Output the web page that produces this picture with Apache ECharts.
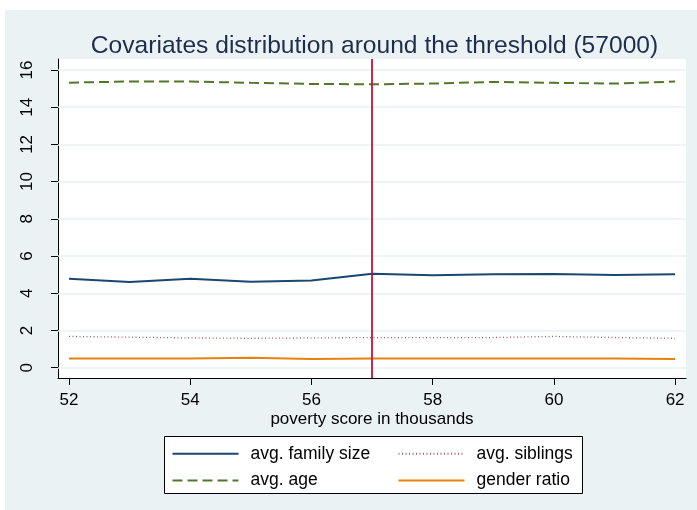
<!DOCTYPE html>
<html>
<head>
<meta charset="utf-8">
<script src="https://cdn.jsdelivr.net/npm/echarts@6/dist/echarts.min.js"></script>
<style>
html,body{margin:0;padding:0;background:#fff;}
#chart{width:697px;height:510px;}
</style>
</head>
<body>
<div id="chart"></div>
<script>
// ---- data ----
const xValues = [52, 53, 54, 55, 56, 57, 58, 59, 60, 61, 62];
const familySize = [4.78, 4.61, 4.78, 4.62, 4.68, 5.05, 4.97, 5.02, 5.03, 4.98, 5.02];
const siblings = [1.68, 1.64, 1.60, 1.58, 1.60, 1.62, 1.62, 1.62, 1.68, 1.62, 1.58];
const age = [15.32, 15.38, 15.38, 15.31, 15.25, 15.23, 15.27, 15.36, 15.31, 15.27, 15.38];
const gender = [0.50, 0.50, 0.50, 0.53, 0.47, 0.50, 0.50, 0.50, 0.50, 0.50, 0.47];
const xTicks = [52, 54, 56, 58, 60, 62];
const yTicks = [0, 2, 4, 6, 8, 10, 12, 14, 16];
const threshold = 57;
const titleText = 'Covariates distribution around the threshold (57000)';
const xTitle = 'poverty score in thousands';
const seriesNames = ['avg. family size', 'avg. siblings', 'avg. age', 'gender ratio'];

const pair = (ys) => xValues.map((x, i) => [x, ys[i]]);
const FONT = 'Liberation Sans, Arial, sans-serif';

const legendBase = {
  orient: 'vertical', top: 444.8, padding: 0,
  itemWidth: 66, itemHeight: 17, itemGap: 8.7, z: 5,
  itemStyle: {opacity: 0},
  textStyle: {fontFamily: FONT, fontSize: 17.5, color: '#000', lineHeight: 17, padding: [0, 0, 0, 7]}
};

const chart = echarts.init(document.getElementById('chart'), null, {renderer: 'canvas'});
chart.setOption({
  animation: false,
  backgroundColor: 'transparent',
  textStyle: {fontFamily: FONT},
  title: {
    text: titleText,
    left: 369.5, top: 29, textAlign: 'center',
    textStyle: {fontFamily: FONT, fontSize: 24.6, fontWeight: 'normal', color: '#1E2D4F'}
  },
  graphic: [
    {type: 'rect', z: -10, silent: true, shape: {x: 5, y: 10, width: 692, height: 500}, style: {fill: '#EAF2F3'}},
    {type: 'rect', z: 1, silent: true, shape: {x: 164.5, y: 436.5, width: 418, height: 57}, style: {fill: '#fff', stroke: '#000', lineWidth: 1}}
  ],
  grid: {left: 58, right: 11, top: 59, bottom: 132, show: true, backgroundColor: '#fff', borderWidth: 0},
  xAxis: {
    type: 'value', min: 51.818, max: 62.18,
    name: xTitle, nameLocation: 'middle', nameGap: 33, nameMoveOverlap: false,
    nameTextStyle: {fontFamily: FONT, fontSize: 17, color: '#000'},
    axisLine: {show: true, onZero: false, lineStyle: {color: '#000', width: 1}},
    axisTick: {show: true, length: 7, customValues: xTicks, lineStyle: {color: '#000'}},
    axisLabel: {customValues: xTicks, margin: 14, fontFamily: FONT, fontSize: 17, color: '#000'},
    splitLine: {show: false}
  },
  yAxis: {
    type: 'value', min: -0.554, max: 16.59,
    axisLine: {show: true, onZero: false, lineStyle: {color: '#000', width: 1}},
    axisTick: {show: true, length: 7, customValues: yTicks, lineStyle: {color: '#000'}},
    axisLabel: {customValues: yTicks, rotate: 90, margin: 22, fontFamily: FONT, fontSize: 17, color: '#000'},
    splitLine: {show: false}
  },
  legend: [
    Object.assign({}, legendBase, {data: [seriesNames[0], seriesNames[2]], left: 171.5}),
    Object.assign({}, legendBase, {data: [seriesNames[1], seriesNames[3]], left: 397.5})
  ],
  series: [
    {
      name: 'grid', type: 'line', data: [], z: 1, silent: true,
      markLine: {
        silent: true, symbol: 'none', label: {show: false},
        lineStyle: {color: '#EAF2F3', width: 1.5, type: 'solid'},
        data: yTicks.map(v => ({yAxis: v}))
      }
    },
    {name: seriesNames[0], type: 'line', data: pair(familySize), symbol: 'none', z: 3,
      lineStyle: {color: '#1A476F', width: 2}, itemStyle: {color: '#1A476F'}},
    {name: seriesNames[1], type: 'line', data: pair(siblings), symbol: 'none', z: 3,
      lineStyle: {color: '#90353B', width: 1.3, type: [1, 2.5], opacity: 0.8}, itemStyle: {color: '#90353B'}},
    {name: seriesNames[2], type: 'line', data: pair(age), symbol: 'none', z: 3,
      lineStyle: {color: '#55752F', width: 2, type: [10, 5]}, itemStyle: {color: '#55752F'}},
    {name: seriesNames[3], type: 'line', data: pair(gender), symbol: 'none', z: 3,
      lineStyle: {color: '#E8820C', width: 2}, itemStyle: {color: '#E8820C'},
      markLine: {
        silent: true, symbol: 'none', label: {show: false}, z: 10,
        lineStyle: {color: '#C8103E', width: 1.8, type: 'solid'},
        data: [{xAxis: threshold}]
      }}
  ]
});
</script>
</body>
</html>
